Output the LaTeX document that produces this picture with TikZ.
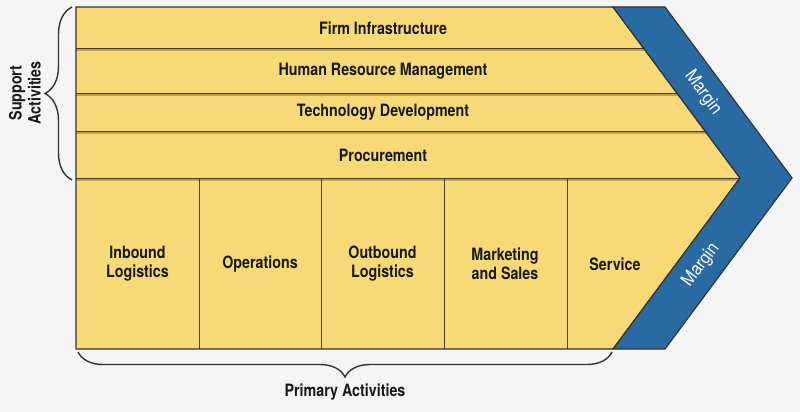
\documentclass[tikz,border=0pt]{standalone}
\usepackage{fontspec}
\setmainfont{TeX Gyre Heros}[FakeStretch=0.84]
\newfontfamily\marginfont{TeX Gyre Heros}[FakeStretch=0.9]
\usetikzlibrary{decorations.pathreplacing}
\definecolor{paper}{RGB}{244,244,244}
\definecolor{yellowlt}{RGB}{247,218,118}
\definecolor{yellowdk}{RGB}{243,204,86}
\definecolor{marginblue}{RGB}{42,106,163}
\definecolor{edgeline}{RGB}{70,58,32}
\definecolor{edgeshade}{RGB}{190,160,80}

\begin{document}
\begin{tikzpicture}[x=1pt, y=-1pt,
    lbl/.style={font=\bfseries\fontsize{17}{19}\selectfont, text=black!90, align=center, inner sep=0pt},
    marginlbl/.style={font=\marginfont\fontsize{18}{20}\selectfont, text=white, inner sep=0pt},
    divider/.style={line width=1pt, draw=edgeline},
    outline/.style={line width=1.2pt, draw=black!80, line join=miter},
    bracket/.style={decorate, line width=1.4pt, draw=black!80, decoration={brace, amplitude=#1}}]
    % Same pixel grid as the slide picture
    \def\xl{76}
    \def\xr{613}
    \def\xt{740}
    \def\mw{52}
    \def\yt{7}
    \def\ym{178}
    \def\yb{349}
    \useasboundingbox (0,0) rectangle (800,412);
    \fill[paper] (0,0) rectangle (800,412);

    % Yellow chevron, one band per support row
    \begin{scope}
      \clip (\xl,\yt) -- (\xr,\yt) -- (\xt,\ym) -- (\xr,\yb) -- (\xl,\yb) -- cycle;
      \foreach \ra/\rb in {7/49, 49/93, 93/131, 131/178} {
        \shade[top color=yellowlt, middle color=yellowdk, bottom color=yellowlt] (\xl,\ra) rectangle (\xt,\rb);
      }
      \shade[top color=yellowlt, middle color=yellowdk!60!yellowlt, bottom color=yellowlt] (\xl,\ym) rectangle (\xt,\yb);
      \foreach \yy in {49,93,131,178} {
        \draw[line width=2pt, edgeshade] (\xl,\yy+1.5) -- (\xt,\yy+1.5);
        \draw[divider] (\xl,\yy) -- (\xt,\yy);
      }
      \foreach \xx in {199,321,444,567} {
        \draw[divider] (\xx,\ym) -- (\xx,\yb);
      }
    \end{scope}
    \draw[outline] (\xl,\yt) -- (\xr,\yt) -- (\xt,\ym) -- (\xr,\yb) -- (\xl,\yb) -- cycle;

    % Margin band
    \filldraw[outline, fill=marginblue] (\xr,\yt) -- ({\xr+\mw},\yt) -- ({\xt+\mw},\ym)
      -- ({\xr+\mw},\yb) -- (\xr,\yb) -- (\xt,\ym) -- cycle;
    \node[marginlbl, rotate=-53.4] (margintop) at (703,93) {Margin};
    \node[marginlbl, rotate=53.4] (marginbot) at (701,265) {Margin};

    % Support activities
    \foreach \lab/\yy/\nm in {Firm Infrastructure/28/firm, Human Resource Management/71/hrm,
        Technology Development/112/tech, Procurement/155/proc} {
      \node[lbl] (\nm) at (383,\yy) {\lab};
    }

    % Primary activities
    \foreach \lab/\xx/\nm in {Inbound\\Logistics/137.5/inbound, Operations/260/ops,
        Outbound\\Logistics/382.5/outbound, Marketing\\and Sales/505/sales, Service/615/service} {
      \node[lbl] (\nm) at (\xx,264) {\lab};
    }

    % Braces and their captions
    \draw[bracket=27pt] (72,180) -- (72,7);
    \node[lbl, rotate=90] (support) at (25,93) {Support\\Activities};
    \draw[bracket=25pt, decoration={mirror}] (78,352) -- (612,352);
    \node[lbl] (primary) at (345,392) {Primary Activities};
\end{tikzpicture}
\end{document}
